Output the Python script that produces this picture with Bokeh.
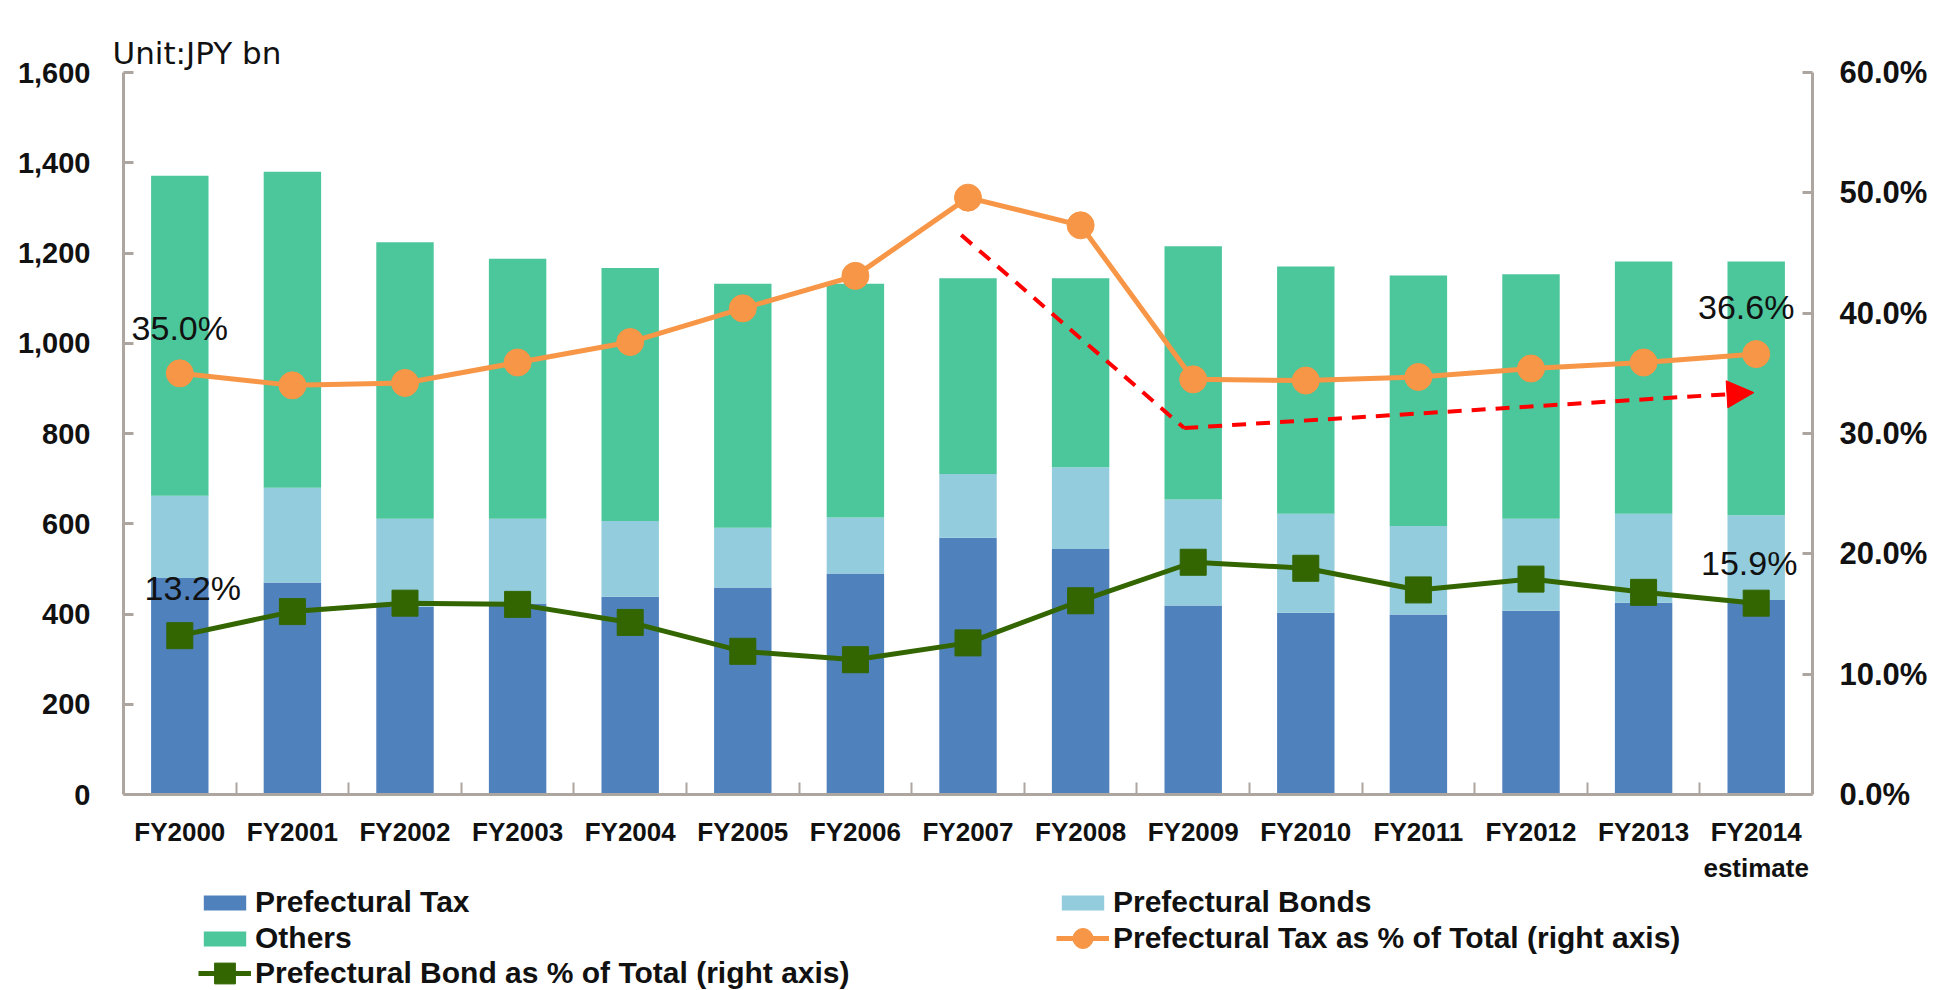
import numpy as np
from bokeh.plotting import figure
from bokeh.layouts import column
from bokeh.models import (Range1d, LinearAxis, FixedTicker, ColumnDataSource, Legend,
                          LegendItem, Label, Arrow, NormalHead, PrintfTickFormatter,
                          NumeralTickFormatter, Title)
from bokeh.embed import file_html
from bokeh.resources import INLINE

# ---- data (JPY bn) ----
fiscal_years = ["FY2000", "FY2001", "FY2002", "FY2003", "FY2004", "FY2005", "FY2006",
                "FY2007", "FY2008", "FY2009", "FY2010", "FY2011", "FY2012", "FY2013",
                "FY2014\nestimate"]
prefectural_tax = [480, 470, 416, 423, 438, 459, 490, 569, 544, 419, 403, 399, 407, 425, 431]
prefectural_bonds = [182, 210, 195, 188, 168, 132, 124, 141, 181, 235, 219, 196, 204, 197, 188]
others = [709, 700, 613, 576, 561, 541, 518, 434, 419, 561, 548, 555, 542, 559, 562]

# shares of total revenue (%), right axis
tax_share = [35.0, 34.0, 34.2, 35.9, 37.6, 40.4, 43.1, 49.6, 47.3, 34.5, 34.4, 34.7, 35.4, 35.9, 36.6]
bond_share = [13.2, 15.2, 15.9, 15.8, 14.3, 11.9, 11.2, 12.6, 16.1, 19.3, 18.8, 17.0, 17.9, 16.8, 15.9]

# trend arrow (category position, % on right axis)
trend_pos = [6.94, 8.92, 13.98]
trend_pct = [46.5, 30.45, 33.4]

left_ticks = [0, 200, 400, 600, 800, 1000, 1200, 1400, 1600]
right_ticks = [0, 10, 20, 30, 40, 50, 60]

# ---- styling ----
C_TAX = "#4F81BD"
C_BONDS = "#93CDDD"
C_OTHERS = "#4CC69B"
C_ORANGE = "#F79646"
C_DKGREEN = "#336600"
C_RED = "#FF0000"
C_AXIS = "#ADA6A0"
C_TEXT = "#111111"
BOLD_FONT = "Liberation Sans"

W = 1943
MAIN_H = 885
LEGEND_H = 105
FRAME_LEFT = 123

n = len(fiscal_years)
idx = np.arange(n)
tax = np.array(prefectural_tax, dtype=float)
bonds = np.array(prefectural_bonds, dtype=float)
oth = np.array(others, dtype=float)

src = ColumnDataSource(dict(
    x=idx,
    tax_top=tax,
    bonds_bottom=tax,
    bonds_top=tax + bonds,
    oth_bottom=tax + bonds,
    oth_top=tax + bonds + oth,
    tax_share=tax_share,
    bond_share=bond_share,
))

p = figure(width=W, height=MAIN_H, output_backend="svg", toolbar_location=None,
           x_range=Range1d(-0.5, n - 0.5), y_range=Range1d(0, 1600),
           x_axis_type=None, y_axis_type=None,
           min_border_left=FRAME_LEFT, min_border_right=131, min_border_top=72,
           min_border_bottom=MAIN_H - 794)
p.extra_y_ranges = {"pct": Range1d(0, 60)}
p.outline_line_color = None
p.xgrid.visible = False
p.ygrid.visible = False
p.background_fill_color = "white"
p.border_fill_color = "white"
p.title.text = ""

# unit note
unit_note = Title(text="Unit:JPY bn", align="left", vertical_align="top", offset=-11,
                  standoff=0, text_font="DejaVu Sans", text_font_size="31px",
                  text_font_style="normal", text_color=C_TEXT)
p.add_layout(unit_note, "above")

# empty band between the unit note and the plot area
gap_axis = LinearAxis(ticker=FixedTicker(ticks=[]), axis_line_color=None,
                      major_tick_line_color="white", minor_tick_line_color=None,
                      major_tick_in=0, major_tick_out=28, major_label_standoff=0)
p.add_layout(gap_axis, "above")

# ---- stacked bars ----
bw = 0.51
p.vbar(x="x", bottom=0, top="tax_top", width=bw, source=src,
       fill_color=C_TAX, line_color=None)
p.vbar(x="x", bottom="bonds_bottom", top="bonds_top", width=bw, source=src,
       fill_color=C_BONDS, line_color=None)
p.vbar(x="x", bottom="oth_bottom", top="oth_top", width=bw, source=src,
       fill_color=C_OTHERS, line_color=None)

# ---- share lines (right axis) ----
p.line("x", "tax_share", source=src, y_range_name="pct", line_color=C_ORANGE, line_width=5)
p.scatter("x", "tax_share", source=src, y_range_name="pct", marker="circle",
          size=27, fill_color=C_ORANGE, line_color=C_ORANGE)
p.line("x", "bond_share", source=src, y_range_name="pct", line_color=C_DKGREEN, line_width=5)
p.scatter("x", "bond_share", source=src, y_range_name="pct", marker="square",
          size=26, fill_color=C_DKGREEN, line_color=C_DKGREEN)

# ---- trend arrow ----
p.line(trend_pos[:2], trend_pct[:2], y_range_name="pct", line_color=C_RED,
       line_width=4, line_dash="14 10")
p.add_layout(Arrow(x_start=trend_pos[1], y_start=trend_pct[1],
                   x_end=trend_pos[2], y_end=trend_pct[2], y_range_name="pct",
                   line_color=C_RED, line_width=4, line_dash="14 10",
                   end=NormalHead(size=27, fill_color=C_RED, line_color=C_RED,
                                  line_width=1)))

# ---- value labels at the first and last years ----
def share_label(i, v, dx, dy):
    p.add_layout(Label(x=i, y=v, y_range_name="pct", text=f"{v:.1f}%",
                       x_offset=dx, y_offset=dy, text_align="center",
                       text_baseline="middle", text_font="Liberation Sans",
                       text_font_size="34px", text_color=C_TEXT))

share_label(0, tax_share[0], 0, 45)
share_label(n - 1, tax_share[-1], -10, 47)
share_label(0, bond_share[0], 13, 48)
share_label(n - 1, bond_share[-1], -7, 40)

# ---- axes ----
def style_axis(ax, standoff, size):
    ax.axis_line_color = C_AXIS
    ax.axis_line_width = 3
    ax.major_tick_line_color = C_AXIS
    ax.major_tick_line_width = 3
    ax.major_tick_in = 10
    ax.major_tick_out = 0
    ax.minor_tick_line_color = None
    ax.major_label_standoff = standoff
    ax.major_label_text_font = BOLD_FONT
    ax.major_label_text_font_style = "bold"
    ax.major_label_text_font_size = size
    ax.major_label_text_color = C_TEXT

ax_left = LinearAxis(ticker=FixedTicker(ticks=left_ticks),
                     formatter=NumeralTickFormatter(format="0,0"))
style_axis(ax_left, 33, "29px")
p.add_layout(ax_left, "left")

ax_right = LinearAxis(y_range_name="pct", ticker=FixedTicker(ticks=right_ticks),
                      formatter=PrintfTickFormatter(format="%.1f%%"))
style_axis(ax_right, 27, "31px")
p.add_layout(ax_right, "right")

ax_bottom = LinearAxis(ticker=FixedTicker(ticks=list(idx),
                                          minor_ticks=[i + 0.5 for i in range(n - 1)]),
                       major_label_overrides={int(i): fiscal_years[i] for i in idx})
style_axis(ax_bottom, 22, "26px")
ax_bottom.major_tick_line_color = None
ax_bottom.minor_tick_line_color = C_AXIS
ax_bottom.minor_tick_line_width = 2
ax_bottom.minor_tick_in = 12
ax_bottom.minor_tick_out = 0
p.add_layout(ax_bottom, "below")

# ---- legend strip under the chart ----
lg = figure(width=W, height=LEGEND_H, output_backend="svg", toolbar_location=None,
            x_range=Range1d(0, 1), y_range=Range1d(0, 1),
            x_axis_type=None, y_axis_type=None, min_border=0,
            min_border_left=0, min_border_right=0, min_border_top=0, min_border_bottom=0)
lg.outline_line_color = None
lg.xgrid.visible = False
lg.ygrid.visible = False
lg.title.visible = False

# legend keys: one sample each, kept outside the strip's visible range
key = ColumnDataSource(dict(x=[-5.0], y=[-5.0], top=[-4.0]))
k_tax = lg.vbar(x="x", top="top", bottom="y", width=0.5, source=key,
                fill_color=C_TAX, line_color=None)
k_bonds = lg.vbar(x="x", top="top", bottom="y", width=0.5, source=key,
                  fill_color=C_BONDS, line_color=None)
k_oth = lg.vbar(x="x", top="top", bottom="y", width=0.5, source=key,
                fill_color=C_OTHERS, line_color=None)
k_tax_line = lg.line("x", "y", source=key, line_color=C_ORANGE, line_width=5)
k_tax_pt = lg.scatter("x", "y", source=key, marker="circle",
                      fill_color=C_ORANGE, line_color=C_ORANGE)
k_bond_line = lg.line("x", "y", source=key, line_color=C_DKGREEN, line_width=5)
k_bond_pt = lg.scatter("x", "y", source=key, marker="square",
                       fill_color=C_DKGREEN, line_color=C_DKGREEN)

TOP = MAIN_H  # canvas y of the strip's top edge
TEXT_H = 35
PITCH = 36


def add_legend(items, x_left, first_center, glyph_h):
    rows = len(items)
    item_h = max(glyph_h, TEXT_H)
    bottom = first_center + (rows - 1) * PITCH + item_h / 2
    loc = (x_left - FRAME_LEFT, LEGEND_H - (bottom - TOP))
    leg = Legend(items=items, location=loc, orientation="vertical",
                 glyph_width=53, glyph_height=glyph_h, label_standoff=4,
                 label_height=TEXT_H, spacing=PITCH - item_h, padding=0, margin=0,
                 border_line_color=None, background_fill_alpha=0,
                 label_text_font=BOLD_FONT, label_text_font_style="bold",
                 label_text_font_size="30px", label_text_color=C_TEXT)
    lg.add_layout(leg, "center")


add_legend([LegendItem(label="Prefectural Tax", renderers=[k_tax]),
            LegendItem(label="Others", renderers=[k_oth])], 198, 902, 19)
add_legend([LegendItem(label="Prefectural Bonds", renderers=[k_bonds])], 1056, 902, 19)
add_legend([LegendItem(label="Prefectural Tax as % of Total (right axis)",
                       renderers=[k_tax_line, k_tax_pt])], 1056, 938, 50)
add_legend([LegendItem(label="Prefectural Bond as % of Total (right axis)",
                       renderers=[k_bond_line, k_bond_pt])], 198, 973, 52)

layout = column(p, lg, spacing=0)

with open("out.html", "w") as f:
    f.write(file_html(layout, INLINE))
